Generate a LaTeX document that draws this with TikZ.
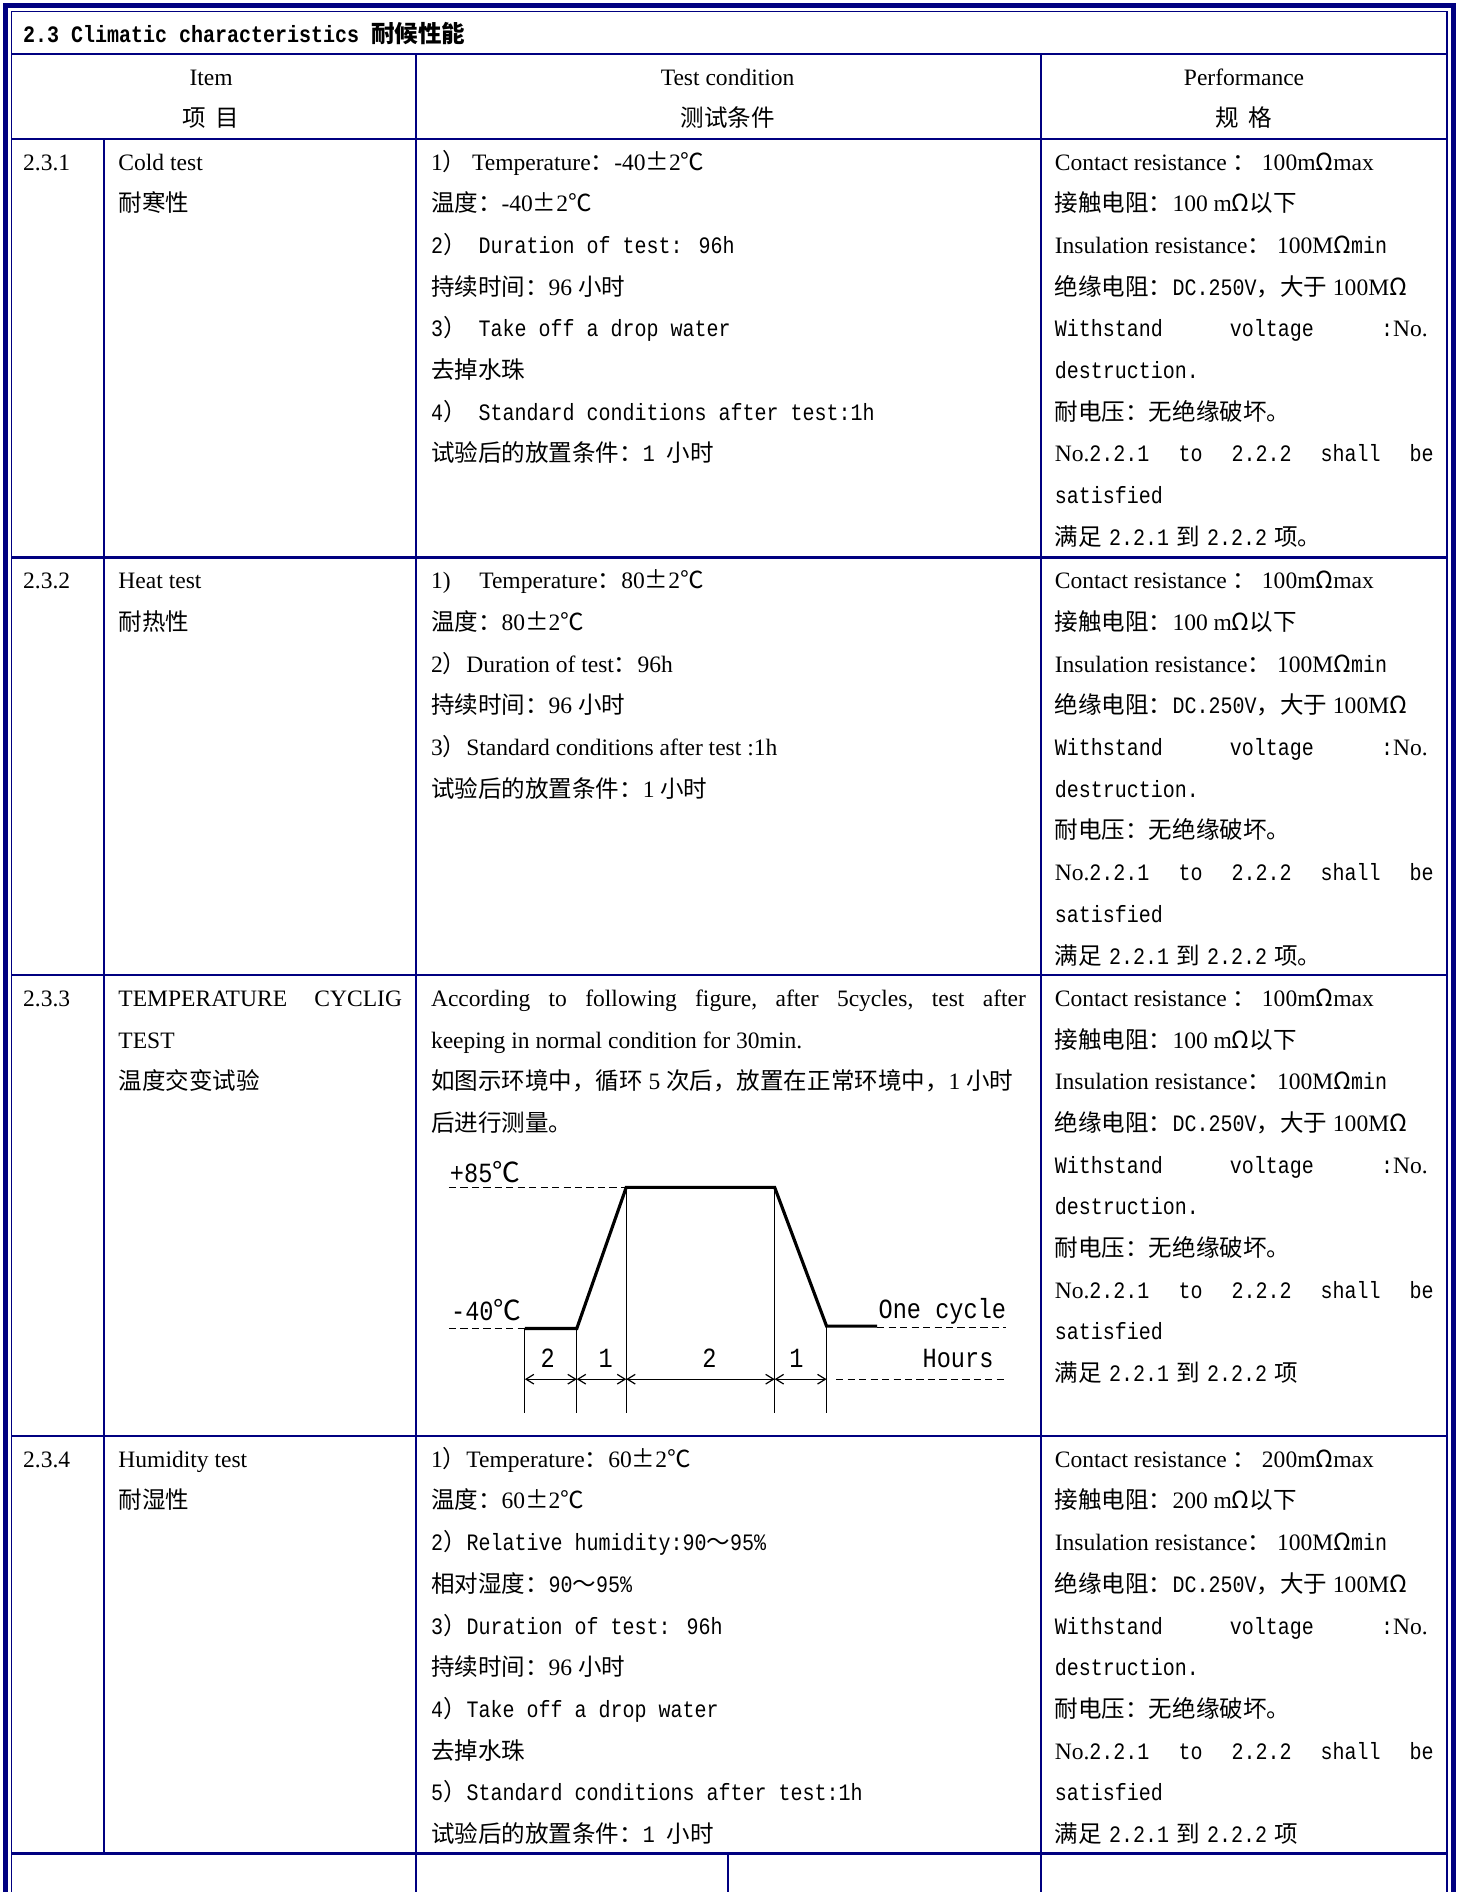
\documentclass[tikz,border=0pt]{standalone}
\usepackage{fontspec}
\setmainfont{Liberation Serif}
\newfontfamily\cjk{Noto Sans CJK SC}
\newfontfamily\mono[FakeStretch=0.85]{Liberation Mono}
\usetikzlibrary{arrows.meta}
\definecolor{navy}{RGB}{0,0,128}
\newcommand\zh[1]{{\cjk #1}}
\newcommand\mn[1]{{\mono #1}}
\newcounter{ln}
\newcommand\Ln[4]{\stepcounter{ln}\node[txt] (l\arabic{ln}) at (#1,#2+26+34.55*#3) {#4};}
\newcommand\Perf[3]{%
 \Ln{874}{#1}{0}{Contact resistance \zh{：} #2m\zh{Ω}max}
 \Ln{874}{#1}{1}{\zh{接触电阻：}#2 m\zh{Ω以下}}
 \Ln{874}{#1}{2}{Insulation resistance\zh{：} 100M\zh{Ω}\mn{min}}
 \Ln{874}{#1}{3}{\zh{绝缘电阻：}\mn{DC.250V}\zh{，大于} 100M\zh{Ω}}
 \Ln{874}{#1}{4}{\makebox[309pt][l]{\mn{Withstand}\hfill\mn{voltage}\hfill\mn{:}No.}}
 \Ln{874}{#1}{5}{\mn{destruction.}}
 \Ln{874}{#1}{6}{\zh{耐电压：无绝缘破坏。}}
 \Ln{874}{#1}{7}{\makebox[314pt][l]{No.\mn{2.2.1}\hfill\mn{to}\hfill\mn{2.2.2}\hfill\mn{shall}\hfill\mn{be}}}
 \Ln{874}{#1}{8}{\mn{satisfied}}
 \Ln{874}{#1}{9}{\zh{满足}\hspace{6pt}\mn{2.2.1}\hspace{6pt}\zh{到}\hspace{6pt}\mn{2.2.2}\hspace{6pt}\zh{项#3}}}
\tikzset{
 txt/.style={anchor=base west, inner sep=0pt, font=\fontsize{19.5}{23}\selectfont},
 hdr/.style={anchor=base, inner sep=0pt, font=\fontsize{19.5}{23}\selectfont},
 chl/.style={anchor=center, inner sep=0pt, font=\fontsize{23}{26}\selectfont\mono},
 grid/.style={draw=navy, line width=1.8pt},
 dsh/.style={draw=black, line width=1pt, dash pattern=on 6pt off 3.5pt},
 prof/.style={draw=black, line width=2.6pt, line join=miter},
 vln/.style={draw=black, line width=1pt},
 dim/.style={draw=black, line width=1pt, {Straight Barb[length=6.5pt,width=8pt]}-{Straight Barb[length=6.5pt,width=8pt]}}
}
\begin{document}
\begin{tikzpicture}[x=1pt,y=-1pt]
\useasboundingbox (0,0) rectangle (1208,1568);
\fill[white] (0,0) rectangle (1208,1568);
% frame
\draw[navy, line width=3.5pt] (4.5,1568) -- (4.5,4.5) -- (1204.5,4.5) -- (1204.5,1568);
\draw[navy, line width=1.5pt] (9.5,1568) -- (9.5,9.5) -- (1199.5,9.5) -- (1199.5,1568);
% grid
\foreach \yy in {45,115,462,808,1190} \draw[grid] (9.5,\yy) -- (1199.5,\yy);
\draw[grid, line width=2.8pt] (9.5,1536) -- (1199.5,1536);
\draw[grid] (345,45) -- (345,1568);
\draw[grid] (863,45) -- (863,1568);
\draw[grid] (86,115) -- (86,1536);
\draw[grid] (603,1536) -- (603,1568);
% title and headers
\node[txt] (title) at (19,35) {\bfseries\mn{2.3 Climatic characteristics }\zh{耐候性能}};
\node[hdr] (h1) at (175,71) {Item};
\node[hdr] (h2) at (175,105) {\zh{项\hspace{8pt}目}};
\node[hdr] (h3) at (603,71) {Test condition};
\node[hdr] (h4) at (603,105) {\zh{测试条件}};
\node[hdr] (h5) at (1031,71) {Performance};
\node[hdr] (h6) at (1031,105) {\zh{规\hspace{8pt}格}};
% row 2.3.1
\Ln{19}{115}{0}{2.3.1}
\Ln{98}{115}{0}{Cold test}
\Ln{98}{115}{1}{\zh{耐寒性}}
\Ln{357}{115}{0}{1\zh{）} Temperature\zh{：}-40\zh{±}2\zh{℃}}
\Ln{357}{115}{1}{\zh{温度：}-40\zh{±}2\zh{℃}}
\Ln{357}{115}{2}{\mn{2}\zh{）}\mn{ Duration of test: 96h}}
\Ln{357}{115}{3}{\zh{持续时间：}96 \zh{小时}}
\Ln{357}{115}{4}{\mn{3}\zh{）}\mn{ Take off a drop water}}
\Ln{357}{115}{5}{\zh{去掉水珠}}
\Ln{357}{115}{6}{\mn{4}\zh{）}\mn{ Standard conditions after test:1h}}
\Ln{357}{115}{7}{\zh{试验后的放置条件：}\mn{1 }\zh{小时}}
\Perf{115}{100}{。}
% row 2.3.2
\Ln{19}{462}{0}{2.3.2}
\Ln{98}{462}{0}{Heat test}
\Ln{98}{462}{1}{\zh{耐热性}}
\Ln{357}{462}{0}{\makebox[40pt][l]{1)}Temperature\zh{：}80\zh{±}2\zh{℃}}
\Ln{357}{462}{1}{\zh{温度：}80\zh{±}2\zh{℃}}
\Ln{357}{462}{2}{2\zh{）}Duration of test\zh{：}96h}
\Ln{357}{462}{3}{\zh{持续时间：}96 \zh{小时}}
\Ln{357}{462}{4}{3\zh{）}Standard conditions after test :1h}
\Ln{357}{462}{5}{\zh{试验后的放置条件：}1 \zh{小时}}
\Perf{462}{100}{。}
% row 2.3.3
\Ln{19}{808}{0}{2.3.3}
\Ln{98}{808}{0}{\makebox[235pt][l]{TEMPERATURE\hfill CYCLIG}}
\Ln{98}{808}{1}{TEST}
\Ln{98}{808}{2}{\zh{温度交变试验}}
\Ln{357}{808}{0}{\makebox[493pt][l]{According\hfill to\hfill following\hfill figure,\hfill after\hfill 5cycles,\hfill test\hfill after}}
\Ln{357}{808}{1}{keeping in normal condition for 30min.}
\Ln{357}{808}{2}{\zh{如图示环境中，循环} 5 \zh{次后，放置在正常环境中，}1 \zh{小时}}
\Ln{357}{808}{3}{\zh{后进行测量。}}
\Perf{808}{100}{}
% chart
\draw[dsh] (372,984) -- (519,984);
\draw[dsh] (372,1101) -- (435,1101);
\draw[dsh] (727,1100) -- (834,1100);
\draw[dsh] (693,1143) -- (834,1143);
\foreach \xx/\tt in {435/1101,478/1101,519/984,642/984,685/1099}
  \draw[vln] (\xx,\tt) -- (\xx,1171);
\draw[prof] (435,1101) -- (478,1101) -- (519,984) -- (642,984) -- (685,1099) -- (727,1099);
\draw[dim] (435,1143) -- (478,1143);
\draw[dim] (478,1143) -- (519,1143);
\draw[dim] (519,1143) -- (642,1143);
\draw[dim] (642,1143) -- (685,1143);
\node[chl] (c1) at (402,971) {+85\zh{℃}};
\node[chl] (c2) at (403,1086) {-40\zh{℃}};
\node[chl] (c3) at (781,1087) {One cycle};
\node[chl] (c4) at (794,1126) {Hours};
\node[chl] (c5) at (454,1126) {2};
\node[chl] (c6) at (502,1126) {1};
\node[chl] (c7) at (588,1126) {2};
\node[chl] (c8) at (660,1126) {1};
% row 2.3.4
\Ln{19}{1190}{0}{2.3.4}
\Ln{98}{1190}{0}{Humidity test}
\Ln{98}{1190}{1}{\zh{耐湿性}}
\Ln{357}{1190}{0}{1\zh{）}Temperature\zh{：}60\zh{±}2\zh{℃}}
\Ln{357}{1190}{1}{\zh{温度：}60\zh{±}2\zh{℃}}
\Ln{357}{1190}{2}{\mn{2}\zh{）}\mn{Relative humidity:90}\zh{～}\mn{95\%}}
\Ln{357}{1190}{3}{\zh{相对湿度：}\mn{90}\zh{～}\mn{95\%}}
\Ln{357}{1190}{4}{\mn{3}\zh{）}\mn{Duration of test: 96h}}
\Ln{357}{1190}{5}{\zh{持续时间：}96 \zh{小时}}
\Ln{357}{1190}{6}{\mn{4}\zh{）}\mn{Take off a drop water}}
\Ln{357}{1190}{7}{\zh{去掉水珠}}
\Ln{357}{1190}{8}{\mn{5}\zh{）}\mn{Standard conditions after test:1h}}
\Ln{357}{1190}{9}{\zh{试验后的放置条件：}\mn{1 }\zh{小时}}
\Perf{1190}{200}{}
\end{tikzpicture}
\end{document}
